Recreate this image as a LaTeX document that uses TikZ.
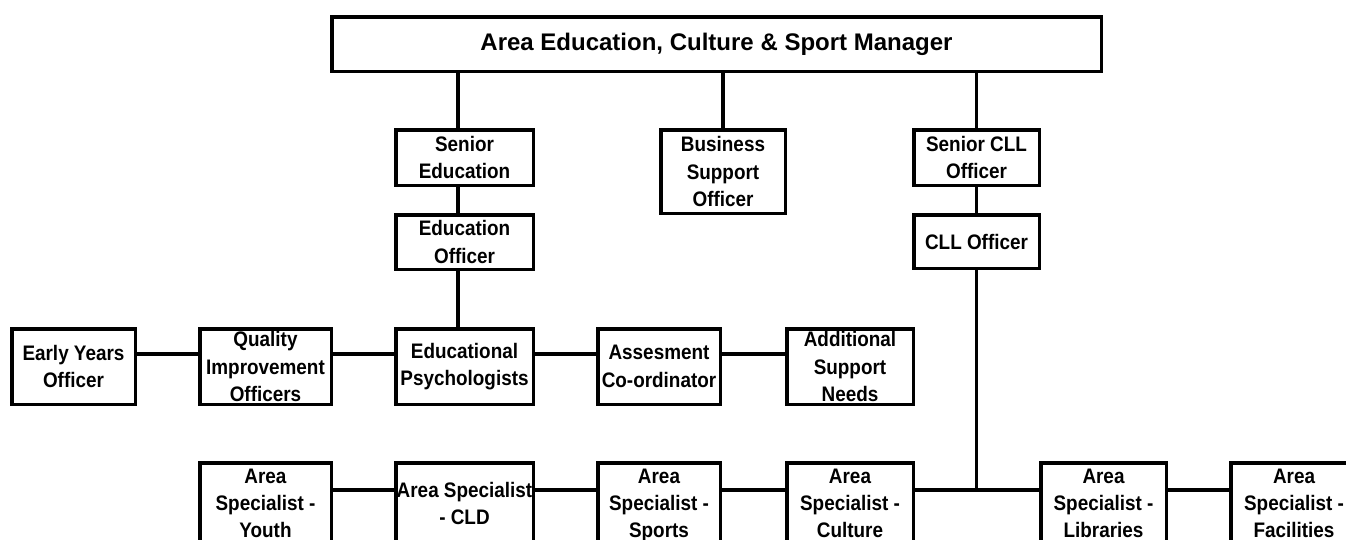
\documentclass[tikz,border=0pt]{standalone}
\usepackage{fontspec}
\setmainfont{Liberation Sans}
\newfontfamily\boxfamily{Liberation Sans}[FakeStretch=0.9]
\newfontfamily\titlefamily{Liberation Sans}
\begin{document}
\begin{tikzpicture}[x=1pt,y=-1pt,
  box/.style={draw, line width=3.5pt, inner sep=0pt, align=center,
    font=\boxfamily\bfseries\fontsize{21}{27.5}\selectfont},
  botbox/.style={box, minimum height=82.5pt, text depth=2pt,
    font=\boxfamily\bfseries\fontsize{21}{27}\selectfont},
  conn/.style={draw, line width=3.5pt}]
\useasboundingbox (0,0) rectangle (1346,539);
% top
\node[box, minimum width=769.5pt, minimum height=54.5pt,
  font=\titlefamily\bfseries\fontsize{24}{29}\selectfont] (top) at (716.5,44)
  {Area Education, Culture \& Sport Manager};
% second level
\node[box, minimum width=137.5pt, minimum height=55.5pt] (se) at (464.5,157.5) {Senior\\Education};
\node[box, minimum width=137.5pt, minimum height=54.5pt] (eo) at (464.5,242) {Education\\Officer};
\node[box, minimum width=124.5pt, minimum height=83.5pt] (bso) at (723,171.5) {Business\\Support\\Officer};
\node[box, minimum width=125.5pt, minimum height=55.5pt] (scll) at (976.5,157.5) {Senior CLL\\Officer};
\node[box, minimum width=125.5pt, minimum height=53.5pt] (cll) at (976.5,241.5) {CLL Officer};
% middle row
\node[box, minimum width=123.5pt, minimum height=75.5pt] (eyo) at (73.5,366.5) {Early Years\\Officer};
\node[box, minimum width=131.5pt, minimum height=75.5pt] (qio) at (265.5,366.5) {Quality\\Improvement\\Officers};
\node[box, minimum width=137.5pt, minimum height=75.5pt] (ep) at (464.5,366.5) {Educational\\Psychologists};
\node[box, minimum width=122.5pt, minimum height=75.5pt] (ac) at (659,366.5) {Assesment\\Co-ordinator};
\node[box, minimum width=126.5pt, minimum height=75.5pt] (asn) at (850,366.5) {Additional\\Support\\Needs};
% bottom row
\node[botbox, minimum width=131.5pt] (yth) at (265.5,504) {Area\\Specialist -\\Youth};
\node[botbox, minimum width=137.5pt] (cld) at (464.5,504) {Area Specialist\\- CLD};
\node[botbox, minimum width=122.5pt] (spt) at (659,504) {Area\\Specialist -\\Sports};
\node[botbox, minimum width=126.5pt] (cul) at (850,504) {Area\\Specialist -\\Culture};
\node[botbox, minimum width=125.5pt] (lib) at (1103.5,504) {Area\\Specialist -\\Libraries};
\node[botbox, minimum width=126.5pt] (fac) at (1294,504) {Area\\Specialist -\\Facilities};
% helper coordinates
\coordinate (ecol) at (458,0);
\coordinate (mrow) at (0,354);
\coordinate (brow) at (0,490);
% connectors
\path[conn] (top.south -| ecol) -- (se.north -| ecol);
\path[conn] (se.south -| ecol) -- (eo.north -| ecol);
\path[conn] (eo.south -| ecol) -- (ep.north -| ecol);
\path[conn] (top.south -| bso.north) -- (bso.north);
\path[conn] (top.south -| scll.north) -- (scll.north);
\path[conn] (scll.south) -- (cll.north);
\path[conn] (cll.south) -- (cll.south |- brow);
\path[conn] (eyo.east |- mrow) -- (qio.west |- mrow);
\path[conn] (qio.east |- mrow) -- (ep.west |- mrow);
\path[conn] (ep.east |- mrow) -- (ac.west |- mrow);
\path[conn] (ac.east |- mrow) -- (asn.west |- mrow);
\path[conn] (yth.east |- brow) -- (cld.west |- brow);
\path[conn] (cld.east |- brow) -- (spt.west |- brow);
\path[conn] (spt.east |- brow) -- (cul.west |- brow);
\path[conn] (cul.east |- brow) -- (lib.west |- brow);
\path[conn] (lib.east |- brow) -- (fac.west |- brow);
\end{tikzpicture}
\end{document}
